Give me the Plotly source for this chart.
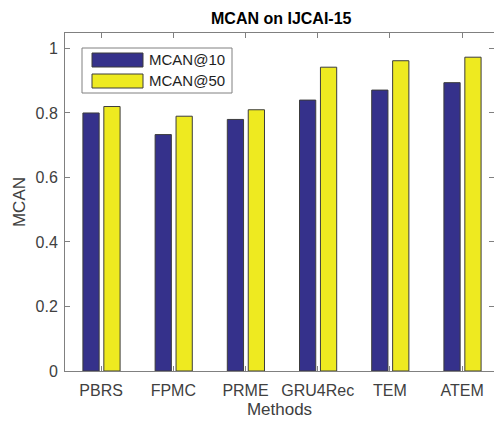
import plotly.graph_objects as go

methods = ["PBRS", "FPMC", "PRME", "GRU4Rec", "TEM", "ATEM"]
mcan10 = [0.80, 0.733, 0.78, 0.84, 0.871, 0.894]
mcan50 = [0.82, 0.79, 0.81, 0.942, 0.962, 0.973]
series_names = ["MCAN@10", "MCAN@50"]
yticks = [0, 0.2, 0.4, 0.6, 0.8, 1]

BLUE = "rgb(53,49,139)"
YELLOW = "rgb(238,234,32)"
EDGE = "rgb(60,60,60)"
AX = "rgb(128,128,128)"
TXT = "rgb(64,64,64)"
FONT = "Liberation Sans, Arial, sans-serif"

W, H = 494, 421
L, R, T, B = 65, 494, 33, 371
XMAX = -0.5 + (R - L) / 72.2  # right part of the axes box is cropped in the reference

fig = go.Figure()
fig.add_bar(x=list(range(len(methods))), y=mcan10, name=series_names[0],
            marker=dict(color=BLUE, line=dict(color=EDGE, width=1)),
            width=0.225, offset=-0.252, showlegend=False)
fig.add_bar(x=list(range(len(methods))), y=mcan50, name=series_names[1],
            marker=dict(color=YELLOW, line=dict(color=EDGE, width=1)),
            width=0.225, offset=0.038, showlegend=False)


def px(x):
    return (x - L) / (R - L)


def py(y):
    return (B - y) / (B - T)


shapes = [
    dict(type="rect", xref="paper", yref="paper", x0=px(82), x1=px(232), y0=py(93), y1=py(48),
         line=dict(color=AX, width=1), fillcolor="white", layer="above"),
    dict(type="rect", xref="paper", yref="paper", x0=px(92), x1=px(143), y0=py(67), y1=py(53),
         line=dict(color=EDGE, width=1), fillcolor=BLUE, layer="above"),
    dict(type="rect", xref="paper", yref="paper", x0=px(92), x1=px(143), y0=py(88), y1=py(74),
         line=dict(color=EDGE, width=1), fillcolor=YELLOW, layer="above"),
]
annotations = [
    dict(xref="paper", yref="paper", x=px(147), y=py(60), text=series_names[0], showarrow=False,
         xanchor="left", yanchor="middle", font=dict(family=FONT, size=15, color="rgb(30,30,30)")),
    dict(xref="paper", yref="paper", x=px(147), y=py(81), text=series_names[1], showarrow=False,
         xanchor="left", yanchor="middle", font=dict(family=FONT, size=15, color="rgb(30,30,30)")),
    dict(xref="paper", yref="paper", x=px(281.5), y=py(18), text="<b>MCAN on IJCAI-15</b>",
         showarrow=False, xanchor="center", yanchor="middle",
         font=dict(family=FONT, size=16, color="black")),
]

fig.update_layout(
    width=W, height=H,
    margin=dict(l=L, r=W - R, t=T, b=H - B, pad=0),
    paper_bgcolor="white", plot_bgcolor="white",
    barmode="overlay",
    shapes=shapes, annotations=annotations,
    font=dict(family=FONT, color=TXT),
    xaxis=dict(range=[-0.5, XMAX], tickmode="array", tickvals=list(range(len(methods))),
               ticktext=methods, ticks="inside", ticklen=5, tickcolor=AX,
               showline=True, linecolor=AX, linewidth=1, mirror="ticks",
               showgrid=False, zeroline=False, tickfont=dict(size=16, color=TXT),
               ticklabelstandoff=5,
               title=dict(text="Methods", font=dict(size=17, color=TXT), standoff=4)),
    yaxis=dict(range=[0, 1.048], tickmode="array", tickvals=yticks,
               ticktext=[f"{v:g}" for v in yticks], ticks="inside", ticklen=5, tickcolor=AX,
               showline=True, linecolor=AX, linewidth=1, mirror="ticks",
               showgrid=False, zeroline=False, tickfont=dict(size=16, color=TXT),
               ticklabelstandoff=3,
               title=dict(text="MCAN", font=dict(size=17, color=TXT), standoff=5)),
)

fig.write_html("out.html", config={"displayModeBar": False},
               post_script="document.body.style.margin='0';")
